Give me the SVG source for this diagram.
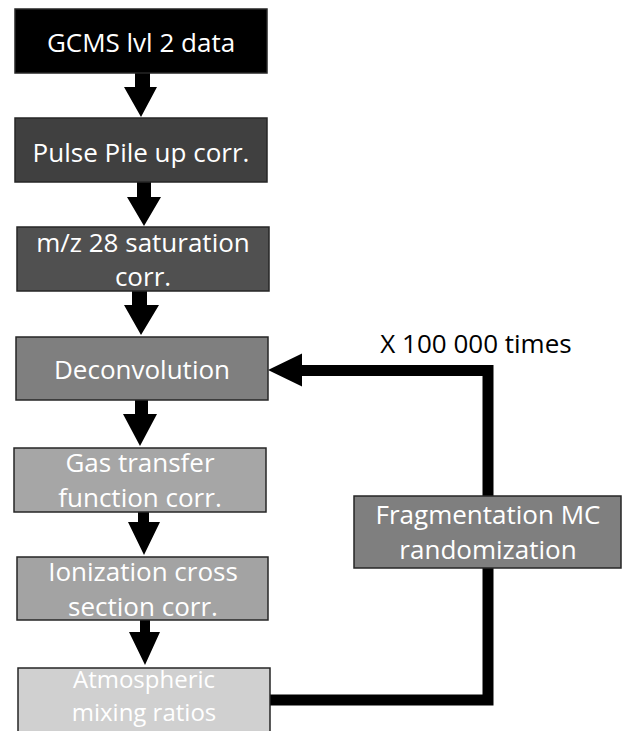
<svg xmlns="http://www.w3.org/2000/svg" width="622" height="731" viewBox="0 0 622 731">
<style>
.box{stroke:#262626;stroke-width:1.5}
.t{font-family:"Open Sans","Noto Sans",sans-serif;font-size:26px;fill:#ffffff;text-anchor:middle}
.s{font-size:24px}
.k{font-family:"Open Sans","Noto Sans",sans-serif;font-size:26px;fill:#000000;text-anchor:middle}
.arr{fill:#000000;stroke:none}
.loop{fill:none;stroke:#000000;stroke-width:11;stroke-linejoin:miter}
</style>
<rect width="622" height="731" fill="#ffffff"/>
<g id="connectors">
<path class="arr" d="M135,73 H150 V87 H157 L141,117 L124,87 H135 Z"/>
<path class="arr" d="M137,182 H151 V197 H161 L144,226 L127,197 H137 Z"/>
<path class="arr" d="M132,291 H147 V305 H159 L141,335 L124,305 H132 Z"/>
<path class="arr" d="M135,400 H148 V414 H157 L140,446 L123,414 H135 Z"/>
<path class="arr" d="M138,512 H149 V522 H160 L144,555 L128,522 H138 Z"/>
<path class="arr" d="M140,620 H150 V632 H160 L145,665 L129,632 H140 Z"/>
<path class="loop" d="M270,700 H488 V370.5 H300"/>
<path class="arr" d="M302,353.5 L302,386.5 L268,370 Z"/>
</g>
<g id="n1"><rect class="box" x="15" y="9" width="252" height="64" fill="#000000"/><text class="t" x="141" y="52">GCMS lvl 2 data</text></g>
<g id="n2"><rect class="box" x="15" y="118" width="252" height="64" fill="#404040"/><text class="t" x="141" y="162">Pulse Pile up corr.</text></g>
<g id="n3"><rect class="box" x="17" y="227" width="252" height="64" fill="#505050"/><text class="t" x="143" y="252">m/z 28 saturation</text><text class="t" x="143" y="286">corr.</text></g>
<g id="n4"><rect class="box" x="16" y="337" width="252" height="63" fill="#7f7f7f"/><text class="t" x="142" y="379">Deconvolution</text></g>
<g id="n5"><rect class="box" x="14" y="448" width="252" height="64" fill="#a6a6a6"/><text class="t" x="140" y="472">Gas transfer</text><text class="t" x="140" y="507">function corr.</text></g>
<g id="n6"><rect class="box" x="17" y="557" width="251" height="63" fill="#a3a3a3"/><text class="t" x="143" y="581">Ionization cross</text><text class="t" x="143" y="616">section corr.</text></g>
<g id="n7"><rect class="box" x="18" y="668" width="252" height="70" fill="#d0d0d0"/><text class="t s" x="144" y="688">Atmospheric</text><text class="t s" x="144" y="721">mixing ratios</text></g>
<g id="n8"><rect class="box" x="354" y="496" width="267" height="72" fill="#7f7f7f"/><text class="t" x="488" y="524">Fragmentation MC</text><text class="t" x="488" y="559">randomization</text></g>
<g id="label"><text class="k" x="476" y="353">X 100 000 times</text></g>
</svg>
